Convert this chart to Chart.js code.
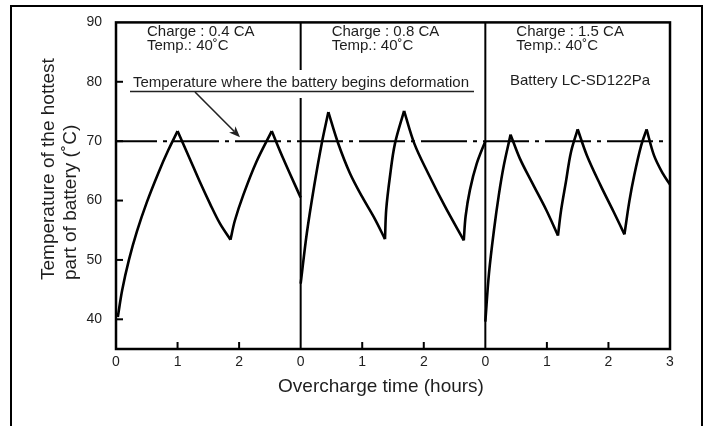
<!DOCTYPE html>
<html>
<head>
<meta charset="utf-8">
<script src="https://cdn.jsdelivr.net/npm/chart.js@4/dist/chart.umd.min.js"></script>
<style>
  html, body { margin: 0; padding: 0; background: #fff; }
  #wrap { width: 709px; height: 426px; position: relative; }
</style>
</head>
<body>
<div id="wrap"><canvas id="overchargeChart"></canvas></div>
<script>
// Values. The x axis runs 0..9 hours: three 3-hour panels side by side.
const hours04 = [0.03, 0.1, 0.21, 0.34, 0.5, 0.69, 0.85, 1.0, 1.2, 1.36, 1.53, 1.69, 1.86, 1.93, 2.07, 2.28, 2.53, 2.72, 3.0];
const temps04 = [40.4, 44.9, 50.0, 54.8, 59.7, 64.7, 68.5, 71.7, 67.0, 63.2, 59.4, 56.1, 53.4, 56.6, 61.0, 66.5, 71.7, 67.0, 60.5];

const hours08 = [3.0, 3.1, 3.22, 3.34, 3.45, 3.61, 3.8, 4.0, 4.2, 4.37, 4.39, 4.45, 4.53, 4.68, 4.85, 5.07, 5.34, 5.65, 5.68, 5.75, 5.86, 6.0];
const temps08 = [46.0, 54.5, 62.5, 69.5, 74.9, 69.6, 64.6, 60.6, 57.0, 53.5, 58.5, 64.0, 69.5, 75.1, 69.5, 64.6, 59.1, 53.3, 57.4, 61.8, 66.2, 70.0];

const hours15 = [6.0, 6.06, 6.14, 6.22, 6.3, 6.41, 6.56, 6.77, 6.99, 7.18, 7.23, 7.31, 7.39, 7.5, 7.65, 7.87, 8.08, 8.26, 8.34, 8.42, 8.53, 8.62, 8.74, 8.88, 9.0];
const temps15 = [39.6, 47.8, 55.0, 61.0, 65.9, 71.1, 67.1, 62.8, 58.4, 54.1, 58.3, 63.2, 68.1, 72.0, 67.6, 62.6, 58.2, 54.3, 59.9, 64.3, 69.2, 72.0, 67.6, 64.6, 62.7];

// Deformation temperature line
const limitHours = [0, 9];
const limitTemps = [70, 70];

// Axes
const xTickValues = [0, 1, 2, 3, 4, 5, 6, 7, 8, 9];
const xTickLabels = ['0', '1', '2', '0', '1', '2', '0', '1', '2', '3'];
const yTickValues = [40, 50, 60, 70, 80, 90];
const panelStarts = [0, 3, 6];
const panelTexts = [
  ['Charge : 0.4 CA', 'Temp.: 40˚C'],
  ['Charge : 0.8 CA', 'Temp.: 40˚C'],
  ['Charge : 1.5 CA', 'Temp.: 40˚C']
];
const yTitle = ['Temperature of the hottest', 'part of battery (˚C)'];
const xTitle = 'Overcharge time (hours)';
const limitNote = 'Temperature where the battery begins deformation';
const batteryNote = 'Battery LC-SD122Pa';

const FONT = "'Liberation Sans', Arial, Helvetica, sans-serif";
const INK = '#1e1e1e';

const toPoints = (xs, ys) => xs.map((x, i) => ({ x: x, y: ys[i] }));

// Split a curve at its peaks and troughs so each smooth piece keeps a sharp cusp at the ends
function splitAtTurns(xs, ys) {
  const pieces = [];
  let start = 0;
  for (let i = 1; i < ys.length - 1; i++) {
    if ((ys[i] - ys[i - 1]) * (ys[i + 1] - ys[i]) < 0) {
      pieces.push(toPoints(xs.slice(start, i + 1), ys.slice(start, i + 1)));
      start = i;
    }
  }
  pieces.push(toPoints(xs.slice(start), ys.slice(start)));
  return pieces;
}

const curveDatasets = [];
[[hours04, temps04], [hours08, temps08], [hours15, temps15]].forEach(([xs, ys]) => {
  splitAtTurns(xs, ys).forEach(piece => {
    curveDatasets.push({
      data: piece,
      borderColor: '#000',
      borderWidth: 2.6,
      pointRadius: 0,
      tension: 0.35,
      showLine: true,
      fill: false
    });
  });
});

// Frame, panel dividers, inward ticks, titles and notes
const decorPlugin = {
  id: 'decor',
  beforeDatasetsDraw(chart) {
    const { ctx, chartArea: a, scales } = chart;
    const xs = scales.x, ys = scales.y;
    ctx.save();
    ctx.strokeStyle = '#000';

    // outer frame (bottom edge runs off the picture)
    ctx.lineWidth = 2;
    ctx.beginPath();
    ctx.moveTo(11, 430);
    ctx.lineTo(11, 6);
    ctx.lineTo(702, 6);
    ctx.lineTo(702, 430);
    ctx.stroke();

    // panel dividers
    panelStarts.slice(1).forEach(v => {
      const px = xs.getPixelForValue(v);
      ctx.beginPath();
      ctx.moveTo(px, a.top);
      ctx.lineTo(px, a.bottom);
      ctx.stroke();
    });

    // inward tick marks
    yTickValues.filter(v => v < ys.max).forEach(v => {
      const py = ys.getPixelForValue(v);
      ctx.beginPath();
      ctx.moveTo(a.left, py);
      ctx.lineTo(a.left + 7, py);
      ctx.stroke();
    });
    xTickValues.filter(v => v % 3 !== 0).forEach(v => {
      const px = xs.getPixelForValue(v);
      ctx.beginPath();
      ctx.moveTo(px, a.bottom);
      ctx.lineTo(px, a.bottom - 7);
      ctx.stroke();
    });

    // plot border
    ctx.lineWidth = 2.5;
    ctx.strokeRect(a.left, a.top, a.right - a.left, a.bottom - a.top);

    // axis titles
    ctx.fillStyle = INK;
    ctx.font = '19px ' + FONT;
    ctx.textAlign = 'center';
    ctx.textBaseline = 'alphabetic';
    ctx.fillText(xTitle, 381, 392);

    ctx.save();
    ctx.translate(53.5, 280);
    ctx.rotate(-Math.PI / 2);
    ctx.textAlign = 'left';
    ctx.fillText(yTitle[0], 0, 0);
    ctx.fillText(yTitle[1], 0, 22);
    ctx.restore();

    ctx.restore();
  },
  afterDatasetsDraw(chart) {
    const { ctx, scales } = chart;
    const xs = scales.x, ys = scales.y;
    ctx.save();
    ctx.fillStyle = INK;
    ctx.font = '15px ' + FONT;
    ctx.textAlign = 'left';
    ctx.textBaseline = 'alphabetic';

    panelStarts.forEach((v, i) => {
      const px = xs.getPixelForValue(v) + 31;
      ctx.fillText(panelTexts[i][0], px, 36);
      ctx.fillText(panelTexts[i][1], px, 50);
    });
    ctx.fillText(batteryNote, 510, 85);

    // deformation note: white backing breaks the divider behind it
    ctx.fillStyle = '#fff';
    ctx.fillRect(129, 70, 346, 28);
    ctx.fillStyle = INK;
    ctx.fillText(limitNote, 133, 87);
    ctx.strokeStyle = '#222';
    ctx.lineWidth = 1.6;
    ctx.beginPath();
    ctx.moveTo(130, 91.5);
    ctx.lineTo(474, 91.5);
    ctx.stroke();

    // arrow down to the 70 line
    const tipX = 240, tipY = ys.getPixelForValue(limitTemps[0]) - 4;
    const fromX = 195, fromY = 92;
    const ang = Math.atan2(tipY - fromY, tipX - fromX);
    ctx.beginPath();
    ctx.moveTo(fromX, fromY);
    ctx.lineTo(tipX - 8 * Math.cos(ang), tipY - 8 * Math.sin(ang));
    ctx.stroke();
    ctx.fillStyle = '#222';
    ctx.beginPath();
    ctx.moveTo(tipX, tipY);
    ctx.lineTo(tipX - 11 * Math.cos(ang) + 4.5 * Math.sin(ang), tipY - 11 * Math.sin(ang) - 4.5 * Math.cos(ang));
    ctx.lineTo(tipX - 8 * Math.cos(ang), tipY - 8 * Math.sin(ang));
    ctx.lineTo(tipX - 11 * Math.cos(ang) - 4.5 * Math.sin(ang), tipY - 11 * Math.sin(ang) + 4.5 * Math.cos(ang));
    ctx.closePath();
    ctx.fill();

    ctx.restore();
  }
};

const ctx = document.getElementById('overchargeChart').getContext('2d');
const chart = new Chart(ctx, {
  type: 'scatter',
  data: {
    datasets: curveDatasets.concat([
      {
        label: 'deformation',
        data: toPoints(limitHours, limitTemps),
        borderColor: '#000',
        borderWidth: 2,
        borderDash: [46, 6, 4, 6],
        borderDashOffset: 5,
        pointRadius: 0,
        showLine: true
      }
    ])
  },
  options: {
    responsive: true,
    maintainAspectRatio: false,
    animation: false,
    layout: { padding: { top: 15, right: 39, left: 0, bottom: 0 } },
    plugins: {
      legend: { display: false },
      tooltip: { enabled: false }
    },
    scales: {
      x: {
        type: 'linear',
        min: 0,
        max: 9,
        grid: { display: false, drawTicks: false },
        border: { display: false },
        afterBuildTicks: s => { s.ticks = xTickValues.map(v => ({ value: v })); },
        afterFit: s => { s.height = 77; },
        ticks: {
          padding: 5,
          color: INK,
          font: { family: FONT, size: 14 },
          maxRotation: 0,
          autoSkip: false,
          callback: (v) => xTickLabels[xTickValues.indexOf(v)]
        }
      },
      y: {
        type: 'linear',
        min: 35,
        max: 90,
        grid: { display: false, drawTicks: false },
        border: { display: false },
        afterBuildTicks: s => { s.ticks = yTickValues.map(v => ({ value: v })); },
        afterFit: s => { s.width = 116; },
        ticks: {
          padding: 14,
          color: INK,
          font: { family: FONT, size: 14 }
        }
      }
    }
  },
  plugins: [decorPlugin]
});
</script>
</body>
</html>
